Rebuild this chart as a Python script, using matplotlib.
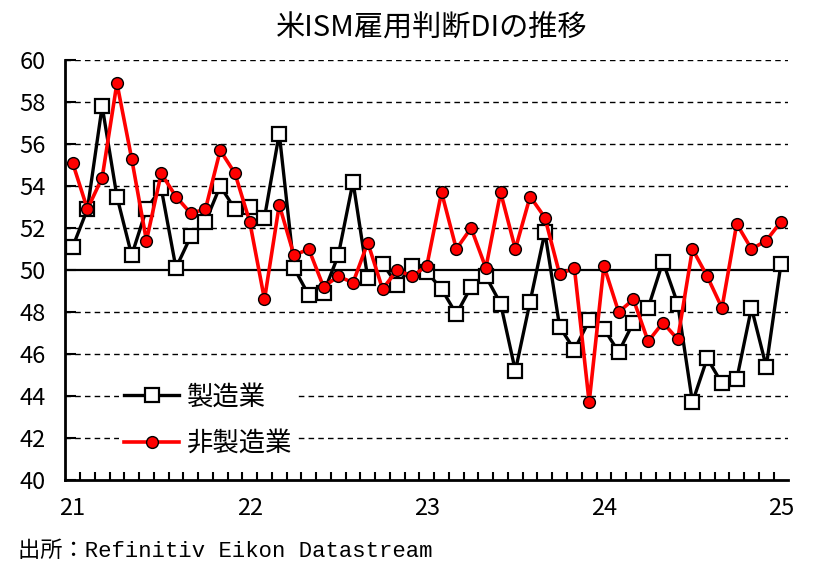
import numpy as np
import matplotlib
matplotlib.use("Agg")
import matplotlib.pyplot as plt

plt.rcParams['font.family'] = ['Noto Sans CJK JP', 'DejaVu Sans']

# monthly, 2021-01 .. 2025-01
manufacturing = [51.1, 52.9, 57.8, 53.5, 50.7, 52.9, 53.9, 50.1, 51.6, 52.3, 54.0, 52.9,
                 53.0, 52.5, 56.5, 50.1, 48.8, 48.9, 50.7, 54.2, 49.6, 50.3, 49.3, 50.2,
                 49.9, 49.1, 47.9, 49.2, 49.7, 48.4, 45.2, 48.5, 51.8, 47.3, 46.2, 47.6,
                 47.2, 46.1, 47.5, 48.2, 50.4, 48.4, 43.7, 45.8, 44.6, 44.8, 48.2, 45.4,
                 50.3]
non_manufacturing = [55.1, 52.9, 54.4, 58.9, 55.3, 51.4, 54.6, 53.5, 52.7, 52.9, 55.7, 54.6,
                     52.3, 48.6, 53.1, 50.7, 51.0, 49.2, 49.7, 49.4, 51.3, 49.1, 50.0, 49.7,
                     50.2, 53.7, 51.0, 52.0, 50.1, 53.7, 51.0, 53.5, 52.5, 49.8, 50.1, 43.7,
                     50.2, 48.0, 48.6, 46.6, 47.5, 46.7, 51.0, 49.7, 48.2, 52.2, 51.0, 51.4,
                     52.3]
year_labels = ['21', '22', '23', '24', '25']
series_names = ['製造業', '非製造業']
title = '米ISM雇用判断DIの推移'
source = '出所：Refinitiv Eikon Datastream'

x = np.arange(len(manufacturing))

fig = plt.figure(figsize=(8.19, 5.77), dpi=100)
ax = fig.add_axes([0.0797, 0.168, 0.8829, 0.728])

# grid
for yv in range(42, 61, 2):
    if yv == 50:
        continue
    ax.axhline(yv, color='black', lw=1.0, ls=(0, (4, 3)), zorder=1)
ax.axhline(50, color='black', lw=1.6, zorder=1)

ax.plot(x, manufacturing, color='black', lw=2.4, marker='s', markersize=9.5,
        markerfacecolor='white', markeredgecolor='black', markeredgewidth=1.6,
        label=series_names[0], zorder=3)
ax.plot(x, non_manufacturing, color='red', lw=2.6, marker='o', markersize=8.5,
        markerfacecolor='red', markeredgecolor='black', markeredgewidth=1.0,
        label=series_names[1], zorder=4)

ax.set_xlim(-0.5, len(x) - 0.5)
ax.set_ylim(40, 60)
ax.set_yticks(range(40, 61, 2))
ax.set_xticks(np.arange(len(x) - 1) + 0.5)
ax.set_xticklabels([])
ax.set_xticks(np.arange(0, len(x), 12), minor=True)
ax.set_xticklabels(year_labels, minor=True, fontsize=17)
ax.tick_params(axis='x', which='major', direction='in', length=6, width=1.5)
ax.tick_params(axis='x', which='minor', length=0, pad=12)
ax.tick_params(axis='y', direction='in', length=8, width=1.5, labelsize=17, pad=14)

for s in ['top', 'right']:
    ax.spines[s].set_visible(False)
for s in ['left', 'bottom']:
    ax.spines[s].set_linewidth(2)

leg = ax.legend(loc='upper left', bbox_to_anchor=(0.145, 0.345), bbox_transform=fig.transFigure,
                frameon=True, fontsize=19, handlelength=2.1, handletextpad=0.3,
                labelspacing=0.75, borderpad=0.2, borderaxespad=0)
leg.get_frame().set_edgecolor('none')
leg.get_frame().set_facecolor('white')
leg.get_frame().set_alpha(1)

fig.text(0.527, 0.950, title, ha='center', va='center', fontsize=21)
fig.text(0.022, 0.045, source, ha='left', va='center', fontsize=16,
         family=['Liberation Mono', 'Noto Sans CJK JP'])

fig.savefig('out.png', dpi=100)
